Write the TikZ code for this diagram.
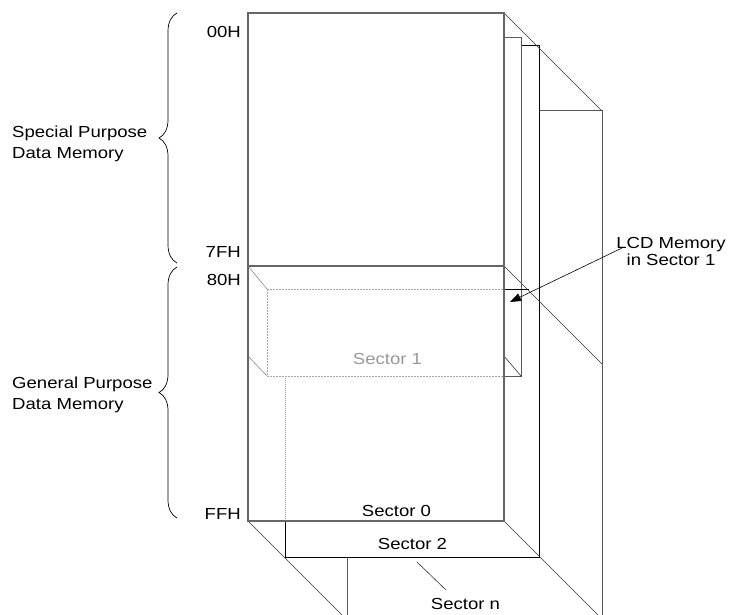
\documentclass[tikz,border=0pt]{standalone}
\usepackage{fontspec}
\setmainfont{Liberation Sans}[FakeStretch=1.16]
\usetikzlibrary{arrows.meta,decorations.pathreplacing}
\begin{document}
\begin{tikzpicture}[x=1pt,y=-1pt,
  sheetzero/.style={draw=black!60, line width=1.4pt},
  sheet/.style={draw=black!65, line width=1pt},
  sheetdark/.style={draw=black, line width=0.9pt},
  diag/.style={draw=black!80, line width=0.6pt},
  hid/.style={draw=black!35, dash pattern=on 2pt off 1pt, line width=0.7pt},
  lbl/.style={font=\fontsize{16}{21}\selectfont, inner sep=0pt},
  greylbl/.style={lbl, text=black!40},
  brc/.style={decorate, decoration={brace, amplitude=18pt}, line width=0.7pt}]
\clip (0,0) rectangle (739,615);
\fill[white] (0,0) rectangle (739,615);
% ---- coordinates ----
% Sector 0
\coordinate (s0tl) at (248,13);
\coordinate (s0tr) at (504,13);
\coordinate (s0br) at (504,521);
\coordinate (s0bl) at (248,521);
\coordinate (s0ml) at (248,266);
\coordinate (s0mr) at (504,266);
\coordinate (s0fl) at (248,356);
\coordinate (s0fr) at (504,356);
% Sector 1
\coordinate (s1t)  at (504,38);
\coordinate (s1tr) at (521,38);
\coordinate (s1br) at (521,376);
\coordinate (s1bm) at (504,376);
\coordinate (s1bl) at (267,376);
\coordinate (s1ml) at (267,289);
\coordinate (s1mr) at (504,289);
\coordinate (s1mx) at (529,289);
% Sector 2
\coordinate (s2t)  at (521,45);
\coordinate (s2tr) at (539,45);
\coordinate (s2br) at (539,557);
\coordinate (s2bl) at (285,557);
\coordinate (s2hl) at (285,376);
\coordinate (s2hm) at (285,521);
% Sector n
\coordinate (snt)  at (539,111);
\coordinate (sntr) at (602,111);
\coordinate (snbr) at (602,625);
\coordinate (snl)  at (347,557);
\coordinate (snbl) at (347,625);
\coordinate (snmr) at (602,364);
\coordinate (snd1) at (352,625);
\coordinate (snd2) at (608,625);
% ---- Sector n ----
\draw[sheet] (snt) -- (sntr) -- (snbr);
\draw[sheet] (snl) -- (snbl);
% ---- Sector 2 ----
\draw[sheetdark] (s2t) -- (s2tr) -- (s2br) -- (s2bl) -- (s2hm);
\draw[hid, dash pattern=on 1pt off 1pt] (s2hm) -- (s2hl);
% ---- diagonals ----
\draw[diag] (s0tr) -- (sntr);
\draw[diag] (s0mr) -- (snmr);
\draw[diag] (s0bl) -- (snd1);
\draw[diag] (s0br) -- (snd2);
% ---- Sector 1 ----
\draw[sheet] (s1t) -- (s1tr) -- (s1br) -- (s1bm);
\draw[hid] (s1ml) -- (s1mr);
\draw[hid] (s1ml) -- (s1bl) -- (s1bm);
\draw[draw=black!45, line width=0.6pt] (s0ml) -- (s1ml);
\draw[draw=black!45, line width=0.6pt] (s0fl) -- (s1bl);
\draw[diag] (s0fr) -- (s1br);
\draw[black, line width=0.7pt] (s1mr) -- (s1mx);
% ---- Sector 0 ----
\draw[sheetzero] (s0tl) rectangle (s0br);
\draw[sheetzero] (s0ml) -- (s0mr);
% ---- labels ----
\node[lbl, anchor=east] (a00) at (241,31.5) {00H};
\node[lbl, anchor=east] (a7f) at (241,251.5) {7FH};
\node[lbl, anchor=east] (a80) at (241,279.5) {80H};
\node[lbl, anchor=east] (aff) at (241,513.5) {FFH};
\node[lbl, anchor=west, align=left] (spdm) at (12,144) {Special Purpose\\Data Memory};
\node[lbl, anchor=west, align=left] (gpdm) at (12,395) {General Purpose\\Data Memory};
\node[lbl] (sec0) at (396.5,511) {Sector 0};
\node[greylbl] (sec1) at (387.5,359) {Sector 1};
\node[lbl] (sec2) at (412.5,544) {Sector 2};
\node[lbl] (secn) at (465.5,604) {Sector n};
\node[lbl, font=\fontsize{16}{17}\selectfont, align=center] (lcd) at (671,251) {LCD Memory\\in Sector 1};
% ---- braces ----
\coordinate (b1a) at (177,263);
\coordinate (b1b) at (177,13);
\coordinate (b2a) at (177,518);
\coordinate (b2b) at (177,267);
\draw[brc] (b1a) -- (b1b);
\draw[brc] (b2a) -- (b2b);
% ---- leaders ----
\coordinate (lcdfrom) at (622,248);
\coordinate (lcdtip) at (510,302);
\draw[line width=0.6pt, -{Triangle[length=11pt,width=8pt]}] (lcdfrom) -- (lcdtip);
\coordinate (snlead1) at (417,562);
\coordinate (snlead2) at (446,590);
\draw[diag] (snlead1) -- (snlead2);
\end{tikzpicture}
\end{document}
